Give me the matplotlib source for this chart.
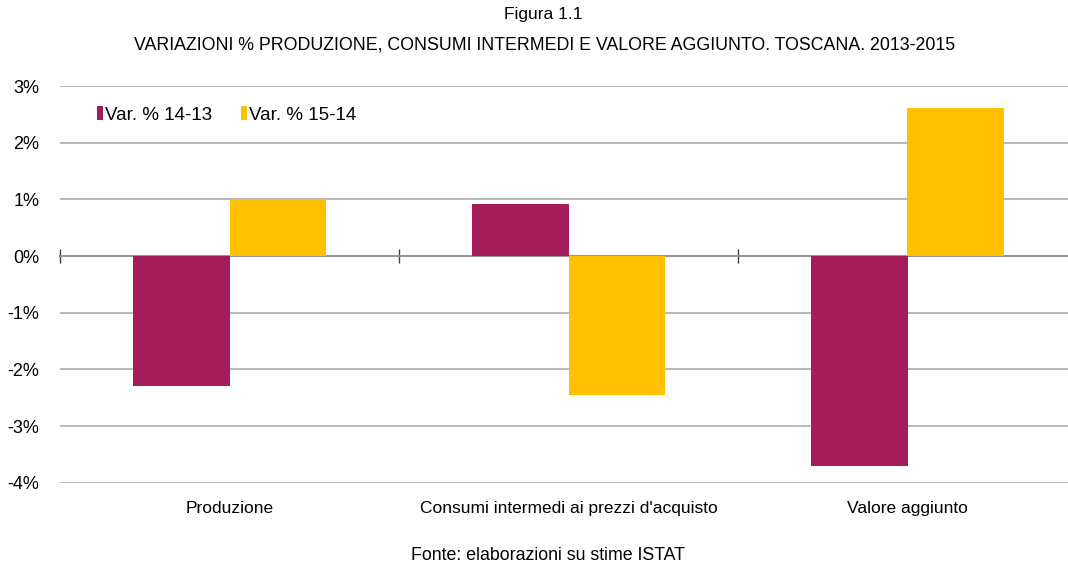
import numpy as np
import matplotlib.pyplot as plt
from matplotlib.ticker import FuncFormatter

categories = ["Produzione", "Consumi intermedi ai prezzi d'acquisto", "Valore aggiunto"]
var_14_13 = [-2.29, 0.92, -3.71]
var_15_14 = [1.01, -2.46, 2.62]
series_names = ["Var. % 14-13", "Var. % 15-14"]
yticks = [-4, -3, -2, -1, 0, 1, 2, 3]

plt.rcParams['font.family'] = ['Liberation Sans Narrow', 'Liberation Sans', 'DejaVu Sans']

purple = "#A51C5A"
yellow = "#FFC000"

fig = plt.figure(figsize=(10.68, 5.66), dpi=100)
W, H = 1068, 566
ax = fig.add_axes([60 / W, 83.3 / H, 1017 / W, (482.7 - 86) / H])

x = np.arange(len(categories))
w = 0.286
ax.bar(x - w / 2, var_14_13, w, color=purple, label=series_names[0], zorder=3)
ax.bar(x + w / 2, var_15_14, w, color=yellow, label=series_names[1], zorder=3)

ax.set_xlim(-0.5, len(categories) - 0.5)
ax.set_ylim(yticks[0], yticks[-1])
ax.set_yticks(yticks)
ax.yaxis.set_major_formatter(FuncFormatter(lambda v, p: f"{v:.0f}%"))
ax.grid(axis='y', color="#a6a6a6", linewidth=1.1, zorder=0)
for s in ax.spines.values():
    s.set_visible(False)

ax.set_xticks(x)
ax.set_xticklabels(categories)
ax.tick_params(axis='x', length=0, pad=13, labelsize=12.5)
ax.tick_params(axis='y', length=0, pad=15, labelsize=13)

# zero axis line with category boundary ticks
sec = ax.secondary_xaxis(0, transform=ax.transData)
sec.set_xticks(np.arange(len(categories)) - 0.5)
sec.set_xticklabels([])
sec.tick_params(direction='inout', length=10, width=1, color="#404040")
sec.spines['bottom'].set_color("#4d4d4d")
sec.spines['bottom'].set_linewidth(1.3)

leg = fig.legend(loc='center left', bbox_to_anchor=(97 / W, 1 - 115 / H), ncol=2,
                 frameon=False, fontsize=13.5, handlelength=0.32, handleheight=0.7,
                 handletextpad=0.1, columnspacing=1.55, borderpad=0, borderaxespad=0)

fig.text(543 / W, 1 - 14 / H, "Figura 1.1", ha='center', va='center', fontsize=12.5)
fig.text(545 / W, 1 - 45 / H,
         "VARIAZIONI % PRODUZIONE, CONSUMI INTERMEDI E VALORE AGGIUNTO. TOSCANA. 2013-2015",
         ha='center', va='center', fontsize=12.8)
fig.text(548 / W, 1 - 556 / H, "Fonte: elaborazioni su stime ISTAT", ha='center', va='center',
         fontsize=12.8)

fig.savefig("out.png", dpi=100)
